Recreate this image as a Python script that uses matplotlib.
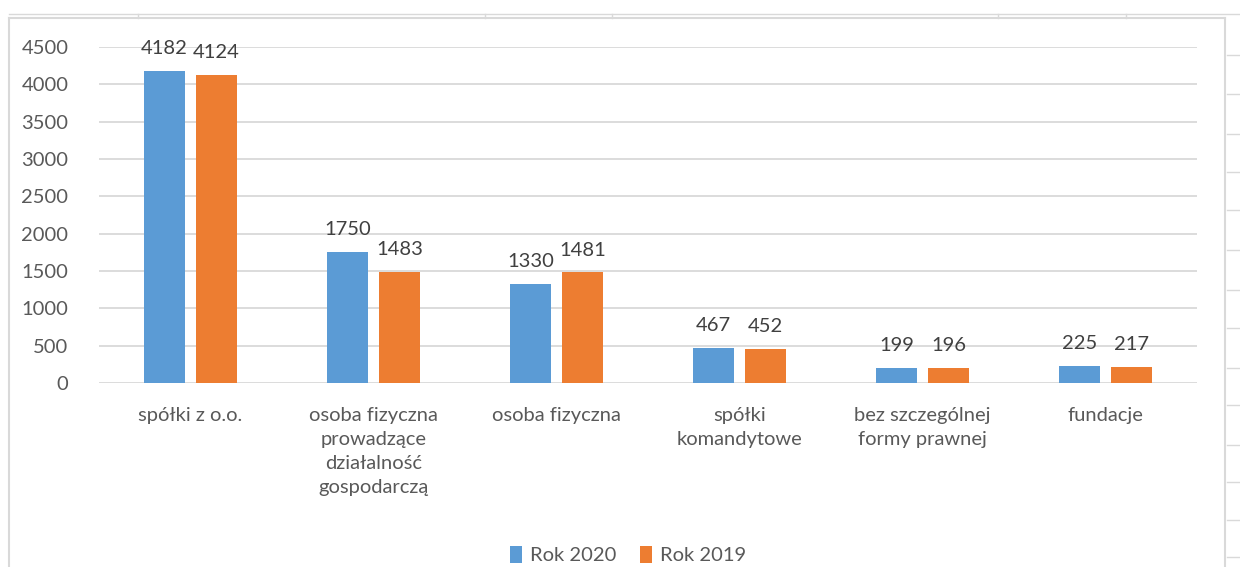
import matplotlib
matplotlib.use("Agg")
import matplotlib.pyplot as plt
import numpy as np
from matplotlib.lines import Line2D

categories = ["spółki z o.o.", "osoba fizyczna\nprowadzące\ndziałalność\ngospodarczą",
              "osoba fizyczna", "spółki\nkomandytowe", "bez szczególnej\nformy prawnej", "fundacje"]
rok_2020 = [4182, 1750, 1330, 467, 199, 225]
rok_2019 = [4124, 1483, 1481, 452, 196, 217]
series_names = ["Rok 2020", "Rok 2019"]
yticks = [0, 500, 1000, 1500, 2000, 2500, 3000, 3500, 4000, 4500]

plt.rcParams['font.family'] = ['Lato', 'DejaVu Sans']
txt = '#595959'
grid = '#D9D9D9'
blue = '#5B9BD5'
orange = '#ED7D31'

W, H = 1240, 567
fig = plt.figure(figsize=(W/100, H/100), dpi=100)
ax = fig.add_axes([99/W, 1-383/H, (1197-99)/W, (383-47)/H])

x = np.arange(len(categories))
bw = 0.22
off = 0.142
b1 = ax.bar(x - off, rok_2020, bw, color=blue, label=series_names[0], zorder=3)
b2 = ax.bar(x + off, rok_2019, bw, color=orange, label=series_names[1], zorder=3)
for bars in (b1, b2):
    for r in bars:
        ax.annotate(f"{int(r.get_height())}", (r.get_x()+r.get_width()/2, r.get_height()),
                    xytext=(0, 10), textcoords='offset points', ha='center', va='bottom',
                    fontsize=14.5, color='#404040')

ax.set_xlim(-0.5, len(categories)-0.5)
ax.set_ylim(0, 4500)
ax.set_yticks(yticks)
ax.set_yticklabels([str(v) for v in yticks])
ax.set_xticks(x)
ax.set_xticklabels(categories, linespacing=1.5)
ax.tick_params(axis='y', length=0, pad=22, labelsize=14.5, labelcolor=txt)
ax.tick_params(axis='x', length=0, pad=17, labelsize=14.5, labelcolor=txt)
ax.grid(axis='y', color=grid, linewidth=1.3, zorder=0)
for s in ax.spines.values():
    s.set_visible(False)

leg = fig.legend(handles=[b1, b2], labels=series_names, loc='center', bbox_to_anchor=(628/W, 1-555/H),
                 ncol=2, frameon=False, fontsize=14.5, handlelength=0.6, handleheight=0.9,
                 handletextpad=0.4, columnspacing=1.2, labelcolor=txt)

# chart frame and surrounding sheet gridlines
def fl(xs, ys, c=grid, lw=1.5):
    fig.add_artist(Line2D([v/W for v in xs], [1-v/H for v in ys], color=c, lw=lw))
fl([9, 1225], [18, 18])
fl([9, 9], [18, 567])
fl([1225, 1225], [18, 567])
fl([9, 1240], [14, 14], lw=1.0)
for xv in [138, 485, 612, 998, 1126]:
    fl([xv, xv], [14, 18], lw=1.0)
for yv in [55, 94, 134, 172, 210, 250, 290, 328, 368, 405, 445, 482, 520, 557]:
    fl([1227, 1240], [yv, yv], lw=1.0)

fig.savefig("out.png", dpi=100)
